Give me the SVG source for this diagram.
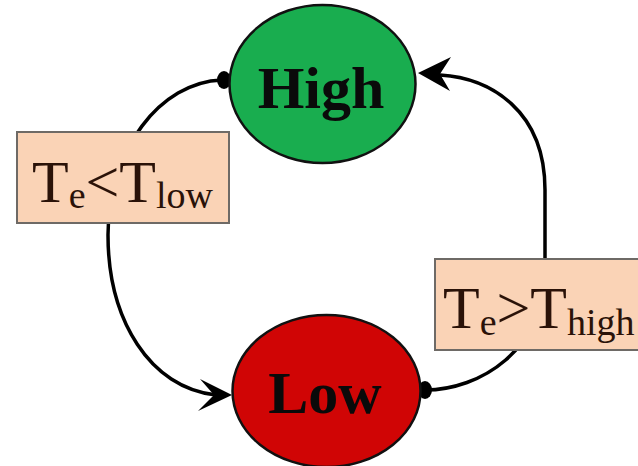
<svg xmlns="http://www.w3.org/2000/svg" width="638" height="466" viewBox="0 0 638 466">
  <style>
    .state { stroke: #111; stroke-width: 2.5; }
    .lbl { fill: #fad3b6; stroke: #6e6a66; stroke-width: 2; }
    .conn { fill: none; stroke: #000; stroke-width: 3.5; stroke-linecap: round; }
    .head { fill: #000; }
    .name { font-family: "Liberation Serif", serif; font-weight: bold; font-size: 60px; fill: #0a0a0a; text-anchor: middle; }
    .cond { font-family: "Liberation Serif", serif; font-size: 60px; fill: #2a1208; }
    .sub { font-size: 38px; }
  </style>
  <rect width="638" height="466" fill="#ffffff"/>
  <g id="connectors">
    <path class="conn" d="M222,80 C160,82 108,150 108,235 C108,320 150,388 216,395"/>
    <polygon class="head" points="232,395 200,379 214,395 198,411"/>
    <ellipse class="head" cx="224" cy="80" rx="7" ry="9"/>
    <path class="conn" d="M425,390 C480,390 545,350 545,270 L545,190 C545,110 490,78 440,75"/>
    <polygon class="head" points="418,73 451,57 440,74 450,91"/>
    <ellipse class="head" cx="425" cy="390" rx="7" ry="9"/>
  </g>
  <g id="high">
    <ellipse class="state" cx="322.5" cy="84" rx="93" ry="79" fill="#19ad4f"/>
    <text class="name" x="321" y="108">High</text>
  </g>
  <g id="low">
    <ellipse class="state" cx="326.5" cy="391" rx="94" ry="76" fill="#d00505"/>
    <text class="name" x="325" y="413" font-size="58">Low</text>
  </g>
  <g id="label-low">
    <rect class="lbl" x="17" y="132" width="212" height="91"/>
    <text class="cond" x="32" y="202">T<tspan class="sub" dy="6">e</tspan><tspan dy="-6">&lt;T</tspan><tspan class="sub" dy="6">low</tspan></text>
  </g>
  <g id="label-high">
    <rect class="lbl" x="435" y="259" width="210" height="91"/>
    <text class="cond" x="443" y="328" font-size="58">T<tspan class="sub" dy="7">e</tspan><tspan dy="-7">&gt;T</tspan><tspan class="sub" dy="7">high</tspan></text>
  </g>
</svg>
